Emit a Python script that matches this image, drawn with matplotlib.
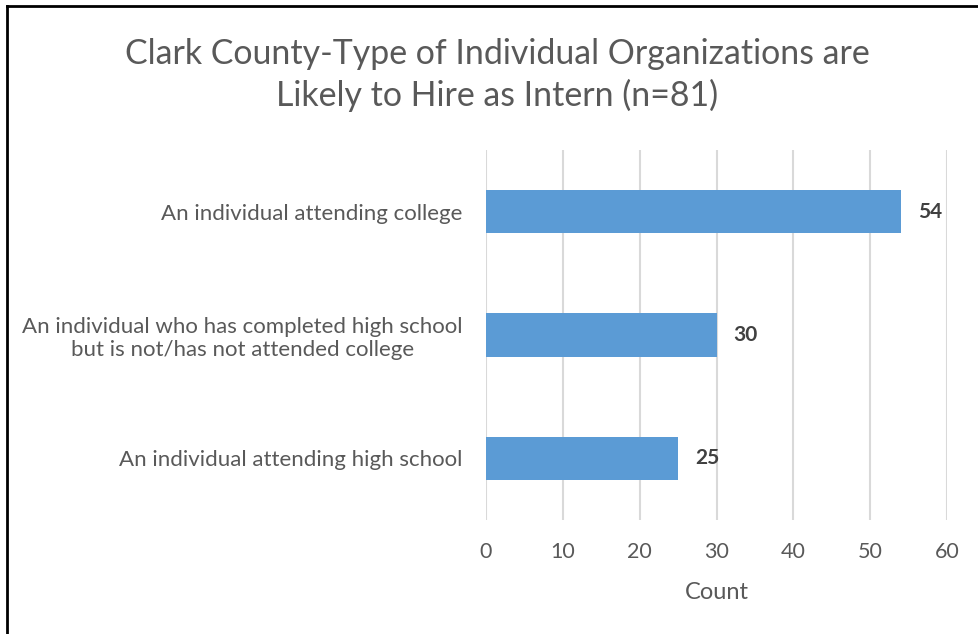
import matplotlib
matplotlib.use("Agg")
import matplotlib.pyplot as plt
from matplotlib.lines import Line2D

plt.rcParams['font.family'] = ['Lato', 'DejaVu Sans']

categories = [
    "An individual attending high school",
    "An individual who has completed high school\nbut is not/has not attended college",
    "An individual attending college",
]
counts = [25, 30, 54]
xticks = [0, 10, 20, 30, 40, 50, 60]

title = "Clark County-Type of Individual Organizations are\nLikely to Hire as Intern (n=81)"

text_gray = "#595959"
bar_color = "#5B9BD5"
grid_color = "#D9D9D9"

fig = plt.figure(figsize=(9.79, 6.34), dpi=100)
ax = fig.add_axes([486 / 979, 1 - 520 / 634, (947 - 486) / 979, (520 - 150) / 634])

ypos = list(range(len(categories)))
ax.barh(ypos, counts, height=0.35, color=bar_color, zorder=3)
for y, v in zip(ypos, counts):
    ax.text(v + 3.8, y, str(v), va="center", ha="center", fontsize=15,
            fontweight="bold", color="#404040")

ax.set_xlim(0, 60)
ax.set_ylim(-0.5, len(categories) - 0.5)
ax.set_xticks(xticks)
ax.set_xticklabels([str(t) for t in xticks])
ax.set_yticks(ypos)
ax.set_yticklabels(categories, multialignment="center")
ax.tick_params(axis="x", length=0, pad=16, labelsize=15.5, colors=text_gray)
ax.tick_params(axis="y", length=0, pad=17, labelsize=16, colors=text_gray)
ax.grid(axis="x", color=grid_color, linewidth=1.5, zorder=0)
for s in ax.spines.values():
    s.set_visible(False)

ax.set_xlabel("Count", fontsize=17, color=text_gray, labelpad=14)

fig.text(497 / 979, 1 - 75 / 634, title, ha="center", va="center",
         fontsize=24.4, color=text_gray, linespacing=1.35)

# Outer frame edges
fig.add_artist(Line2D([7 / 979, 7 / 979], [0, 1 - 6 / 634], transform=fig.transFigure,
                      color="black", linewidth=2))
fig.add_artist(Line2D([7 / 979, 1], [1 - 6 / 634, 1 - 6 / 634], transform=fig.transFigure,
                      color="black", linewidth=2))

fig.savefig("out.png", dpi=100)
